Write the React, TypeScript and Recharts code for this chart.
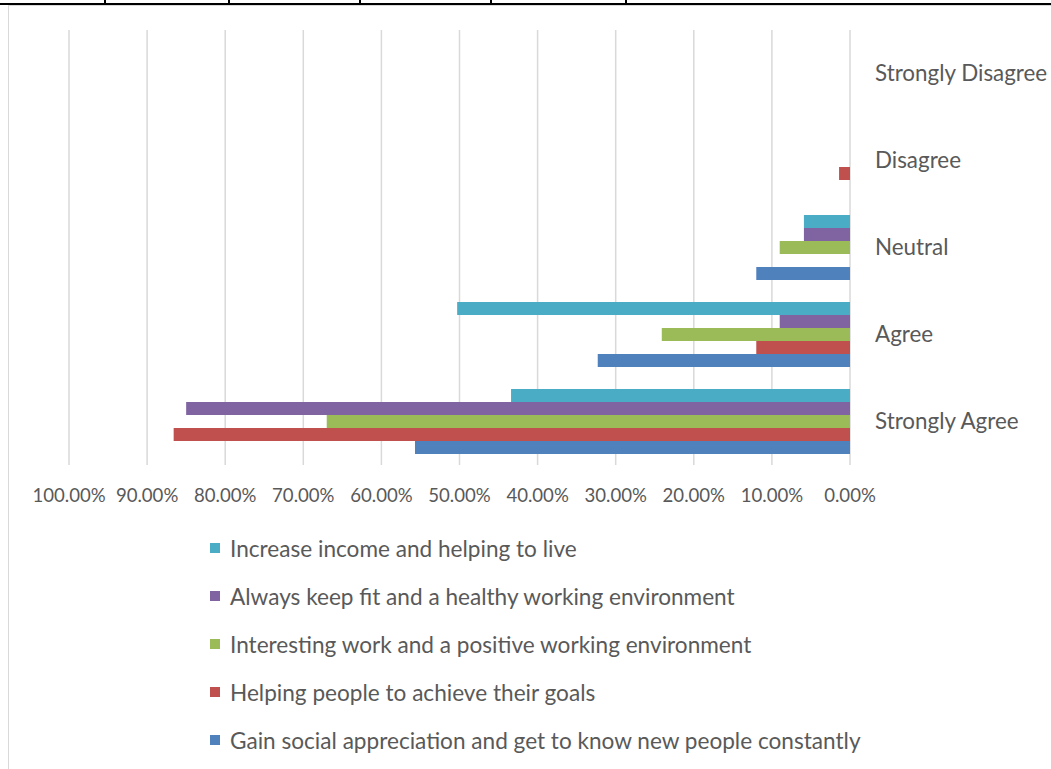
import { BarChart, Bar, XAxis, YAxis, CartesianGrid, Legend } from "recharts";

// ── Data ──────────────────────────────────────────────────────────────────────

const CATEGORIES = ["Strongly Disagree", "Disagree", "Neutral", "Agree", "Strongly Agree"];

const SERIES_NAMES = [
  "Increase income and helping to live",
  "Always keep fit and a healthy working environment",
  "Interesting work and a positive working environment",
  "Helping people to achieve their goals",
  "Gain social appreciation and get to know new people constantly",
];

const SERIES_COLORS = ["#4BACC6", "#8064A2", "#9BBB59", "#C0504D", "#4F81BD"];

// values per category, in CATEGORIES order
const INCOME = [0, 0, 0.059, 0.503, 0.434];
const FIT = [0, 0, 0.059, 0.09, 0.85];
const INTERESTING = [0, 0, 0.09, 0.241, 0.67];
const HELPING = [0, 0.014, 0, 0.12, 0.866];
const SOCIAL = [0, 0, 0.12, 0.323, 0.557];

const SERIES_VALUES = [INCOME, FIT, INTERESTING, HELPING, SOCIAL];

const X_TICKS = [0, 0.1, 0.2, 0.3, 0.4, 0.5, 0.6, 0.7, 0.8, 0.9, 1];

// decorative table border above the chart
const TABLE_TICKS = [104, 228, 359, 490, 625];

const FONT = "Lato, 'Open Sans', sans-serif";
const TEXT = "#595959";

const chartData = CATEGORIES.map((c, i) => {
  const row: Record<string, string | number> = { cat: c };
  SERIES_VALUES.forEach((vals, s) => {
    row["s" + s] = vals[i];
  });
  return row;
});

function fmtPct(v: number): string {
  return (v * 100).toFixed(2) + "%";
}

function LegendList() {
  return (
    <div style={{ fontFamily: FONT, fontSize: 22.6, color: TEXT }}>
      {SERIES_NAMES.map((n, i) => (
        <div key={n} style={{ display: "flex", alignItems: "center", height: 48, whiteSpace: "nowrap" }}>
          <span style={{ display: "inline-block", width: 10, height: 10, background: SERIES_COLORS[i], marginRight: 10 }} />
          {n}
        </div>
      ))}
    </div>
  );
}

export default function App() {
  return (
    <div style={{ position: "absolute", left: 0, top: 0, width: 1051, height: 769, overflow: "hidden", background: "#fff" }}>
      {/* table border */}
      <div style={{ position: "absolute", left: 0, top: 3, width: 1051, height: 2, background: "#000" }} />
      {TABLE_TICKS.map((x) => (
        <div key={x} style={{ position: "absolute", left: x, top: 0, width: 2, height: 4, background: "#000" }} />
      ))}
      {/* chart frame */}
      <div style={{ position: "absolute", left: 8, top: 5, width: 1100, height: 800, borderLeft: "1.5px solid #d9d9d9", borderTop: "1.5px solid #d9d9d9" }} />

      <div style={{ position: "absolute", left: 0, top: 0 }}>
        <BarChart
          width={1051}
          height={769}
          data={chartData}
          layout="vertical"
          margin={{ top: 30, right: 11, bottom: 274, left: 69 }}
          barCategoryGap={11}
          barGap={0}
        >
          <CartesianGrid horizontal={false} stroke="#d9d9d9" strokeWidth={1.5} />
          <XAxis
            type="number"
            reversed
            domain={[0, 1]}
            ticks={X_TICKS}
            tickFormatter={fmtPct}
            axisLine={false}
            tickLine={false}
            tickMargin={18}
            height={30}
            interval={0}
            tick={{ fill: TEXT, fontSize: 18.6, fontFamily: FONT }}
          />
          <YAxis
            type="category"
            dataKey="cat"
            orientation="right"
            width={190}
            axisLine={false}
            tickLine={false}
            tickMargin={19}
            interval={0}
            tick={{ fill: TEXT, fontSize: 22.4, fontFamily: FONT, textAnchor: "start" }}
          />
          <Legend
            layout="vertical"
            align="center"
            verticalAlign="middle"
            content={<LegendList />}
            wrapperStyle={{ top: 524, left: 210, width: 760 }}
          />
          {SERIES_NAMES.map((n, i) => (
            <Bar key={n} dataKey={"s" + i} name={n} fill={SERIES_COLORS[i]} isAnimationActive={false} />
          ))}
        </BarChart>
      </div>
    </div>
  );
}
